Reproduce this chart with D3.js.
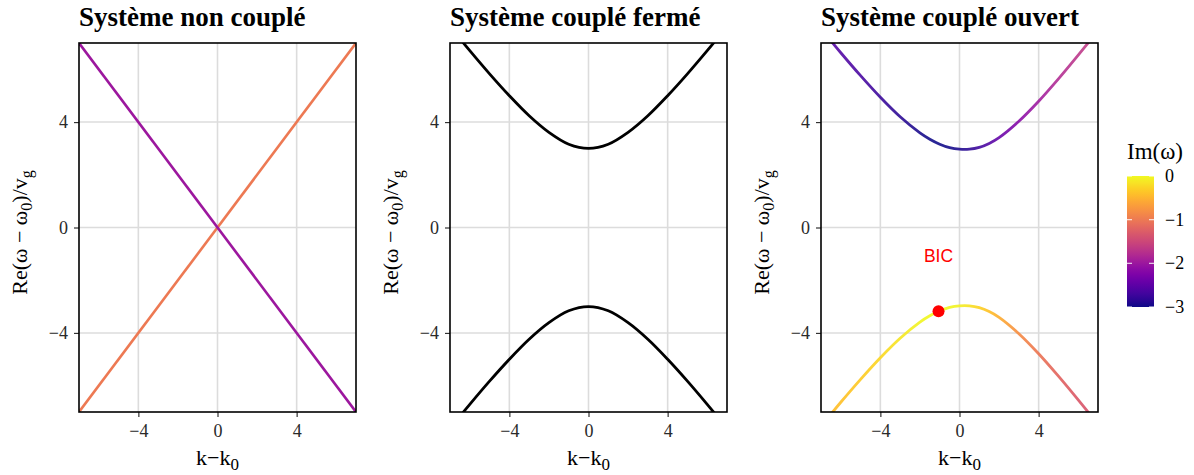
<!DOCTYPE html>
<html><head><meta charset="utf-8">
<script src="https://cdn.jsdelivr.net/npm/d3@7"></script>
<style>
html,body{margin:0;padding:0;background:#fff;}
svg text{font-family:"Liberation Serif","Times New Roman",serif;}
svg text.sans{font-family:"Liberation Sans",Arial,sans-serif;}
</style></head>
<body><svg id="c" width="1194" height="475"></svg>
<script>
// ---------- data ----------
const titles = ["Système non couplé", "Système couplé fermé", "Système couplé ouvert"];
const tickVals = [-4, 0, 4];
const cbTicks = [0, -1, -2, -3];

// Panel 1: uncoupled modes
const uncK = [-7, 7];
const uncUp = [-7, 7];     // mode 1 (Im = -1)
const uncDown = [7, -7];   // mode 2 (Im = -2)
const uncIm = [-1, -2];

// Panel 2: closed coupled system
const closedK = [-7, -6, -5, -4, -3, -2, -1, 0, 1, 2, 3, 4, 5, 6, 7];
const closedUpper = [7.62, 6.71, 5.83, 5.00, 4.24, 3.61, 3.16, 3.00, 3.16, 3.61, 4.24, 5.00, 5.83, 6.71, 7.62];
const closedLower = [-7.62, -6.71, -5.83, -5.00, -4.24, -3.61, -3.16, -3.00, -3.16, -3.61, -4.24, -5.00, -5.83, -6.71, -7.62];

// Panel 3: open coupled system
const openK = [-7, -6, -5, -4, -3, -2, -1.5, -1, -0.5, 0, 0.5, 1, 1.5, 2, 3, 4, 5, 6, 7];
const openUpperRe = [7.54, 6.63, 5.76, 4.94, 4.20, 3.59, 3.35, 3.16, 3.03, 2.97, 2.97, 3.04, 3.19, 3.41, 4.03, 4.79, 5.64, 6.54, 7.47];
const openUpperIm = [-2.53, -2.59, -2.67, -2.77, -2.87, -2.96, -2.99, -3.00, -2.98, -2.93, -2.85, -2.73, -2.59, -2.45, -2.18, -1.97, -1.81, -1.69, -1.60];
const openLowerRe = [-7.54, -6.63, -5.76, -4.94, -4.20, -3.59, -3.35, -3.16, -3.03, -2.97, -2.97, -3.04, -3.19, -3.41, -4.03, -4.79, -5.64, -6.54, -7.47];
const openLowerIm = [-0.47, -0.41, -0.33, -0.24, -0.13, -0.04, -0.01, 0.00, -0.02, -0.07, -0.16, -0.27, -0.41, -0.55, -0.82, -1.03, -1.19, -1.31, -1.40];
const bicK = [-1.06];
const bicRe = [-3.18];
const bicLabel = "BIC";
const bicLabelRe = -1.3;

// ---------- layout ----------
const svg = d3.select("#c");
const panelsX = [[79, 356], [450, 727], [821, 1098]];
const plotTop = 43, plotBottom = 412;
const color = d3.scaleSequential(d3.interpolatePlasma).domain([-3, 0]);
const defs = svg.append("defs");

function panel(i) {
  const [x0, x1] = panelsX[i];
  const x = d3.scaleLinear().domain([-7, 7]).range([x0, x1]);
  const y = d3.scaleLinear().domain([-7, 7]).range([plotBottom, plotTop]);
  const g = svg.append("g");
  g.selectAll(".gx").data(tickVals).join("line")
    .attr("x1", d => x(d)).attr("x2", d => x(d)).attr("y1", plotTop).attr("y2", plotBottom)
    .attr("stroke", "#dcdcdc").attr("stroke-width", 1.6);
  g.selectAll(".gy").data(tickVals).join("line")
    .attr("y1", d => y(d)).attr("y2", d => y(d)).attr("x1", x0).attr("x2", x1)
    .attr("stroke", "#dcdcdc").attr("stroke-width", 1.6);
  const ax = g.append("g").attr("transform", `translate(0,${plotBottom})`)
    .call(d3.axisBottom(x).tickValues(tickVals).tickSize(5).tickPadding(7));
  const ay = g.append("g").attr("transform", `translate(${x0},0)`)
    .call(d3.axisLeft(y).tickValues(tickVals).tickSize(5).tickPadding(6));
  [ax, ay].forEach(a => {
    a.select(".domain").remove();
    a.selectAll("line").attr("stroke", "#333").attr("stroke-width", 1.2);
    a.selectAll("text").attr("font-size", 18).attr("fill", "#2a2a2a");
  });
  const cid = "clip" + i;
  defs.append("clipPath").attr("id", cid).append("rect")
    .attr("x", x0).attr("y", plotTop).attr("width", x1 - x0).attr("height", plotBottom - plotTop);
  const plot = g.append("g").attr("clip-path", `url(#${cid})`);
  svg.append("text").attr("x", x0).attr("y", 26).attr("font-size", 27)
    .attr("font-weight", "bold").attr("fill", "#000").text(titles[i]);
  const xl = svg.append("text").attr("x", (x0 + x1) / 2).attr("y", 465)
    .attr("text-anchor", "middle").attr("font-size", 22).attr("fill", "#000");
  xl.append("tspan").text("k−k");
  xl.append("tspan").attr("font-size", 17).attr("dy", 5).text("0");
  const yl = svg.append("text")
    .attr("transform", `translate(${x0 - 52},${(plotTop + plotBottom) / 2 + 5}) rotate(-90)`)
    .attr("text-anchor", "middle").attr("font-size", 22).attr("fill", "#000");
  yl.append("tspan").text("Re(ω − ω");
  yl.append("tspan").attr("font-size", 16).attr("dy", 5).text("0");
  yl.append("tspan").attr("dy", -5).text(")/v");
  yl.append("tspan").attr("font-size", 16).attr("dy", 5).text("g");
  return { g, plot, x, y, x0, x1 };
}

const P = [0, 1, 2].map(panel);

function gradient(id, p, ks, ims) {
  const lg = defs.append("linearGradient").attr("id", id)
    .attr("gradientUnits", "userSpaceOnUse")
    .attr("x1", p.x0).attr("x2", p.x1).attr("y1", 0).attr("y2", 0);
  lg.selectAll("stop").data(ks).join("stop")
    .attr("offset", (d, j) => (p.x(d) - p.x0) / (p.x1 - p.x0))
    .attr("stop-color", (d, j) => color(ims[j]));
  return `url(#${id})`;
}

// Panel 1
{
  const p = P[0];
  const line = d3.line().x(d => p.x(d[0])).y(d => p.y(d[1]));
  p.plot.append("path").attr("d", line(uncK.map((k, j) => [k, uncUp[j]])))
    .attr("fill", "none").attr("stroke", color(uncIm[0])).attr("stroke-width", 2.6);
  p.plot.append("path").attr("d", line(uncK.map((k, j) => [k, uncDown[j]])))
    .attr("fill", "none").attr("stroke", color(uncIm[1])).attr("stroke-width", 2.6);
}
// Panel 2
{
  const p = P[1];
  const line = d3.line().curve(d3.curveCatmullRom).x(d => p.x(d[0])).y(d => p.y(d[1]));
  [closedUpper, closedLower].forEach(arr => {
    p.plot.append("path").attr("d", line(closedK.map((k, j) => [k, arr[j]])))
      .attr("fill", "none").attr("stroke", "#000").attr("stroke-width", 2.8);
  });
}
// Panel 3
{
  const p = P[2];
  const line = d3.line().curve(d3.curveCatmullRom).x(d => p.x(d[0])).y(d => p.y(d[1]));
  const gu = gradient("gradU", p, openK, openUpperIm);
  const gl = gradient("gradL", p, openK, openLowerIm);
  p.plot.append("path").attr("d", line(openK.map((k, j) => [k, openUpperRe[j]])))
    .attr("fill", "none").attr("stroke", gu).attr("stroke-width", 2.8).attr("stroke-opacity", 0.88);
  p.plot.append("path").attr("d", line(openK.map((k, j) => [k, openLowerRe[j]])))
    .attr("fill", "none").attr("stroke", gl).attr("stroke-width", 2.8).attr("stroke-opacity", 0.92);
  p.plot.selectAll(".bic").data(bicK).join("circle")
    .attr("cx", d => p.x(d)).attr("cy", (d, j) => p.y(bicRe[j])).attr("r", 6).attr("fill", "#ff0000");
  p.plot.append("text").attr("class", "sans").attr("x", p.x(bicK[0])).attr("y", p.y(bicLabelRe))
    .attr("text-anchor", "middle").attr("font-size", 17.5).attr("fill", "#ff0000").text(bicLabel);
}
P.forEach(p => {
  svg.append("rect").attr("x", p.x0).attr("y", plotTop).attr("width", p.x1 - p.x0).attr("height", plotBottom - plotTop)
    .attr("fill", "none").attr("stroke", "#000").attr("stroke-width", 1.6);
});

// colour bar
{
  const cbX = 1127, cbW = 27;
  const cy = d3.scaleLinear().domain([0, -3]).range([176, 307]);
  const lg = defs.append("linearGradient").attr("id", "cbg").attr("x1", 0).attr("x2", 0).attr("y1", 1).attr("y2", 0);
  d3.range(0, 1.0001, 0.05).forEach(t => {
    lg.append("stop").attr("offset", t).attr("stop-color", d3.interpolatePlasma(t));
  });
  svg.append("rect").attr("x", cbX).attr("y", cy(0)).attr("width", cbW).attr("height", cy(-3) - cy(0))
    .attr("fill", "url(#cbg)");
  const tg = svg.append("g");
  cbTicks.forEach(v => {
    tg.append("line").attr("x1", cbX).attr("x2", cbX + 5).attr("y1", cy(v)).attr("y2", cy(v))
      .attr("stroke", "#fff").attr("stroke-width", 1.2).attr("opacity", 0.8);
    tg.append("line").attr("x1", cbX + cbW - 5).attr("x2", cbX + cbW).attr("y1", cy(v)).attr("y2", cy(v))
      .attr("stroke", "#fff").attr("stroke-width", 1.2).attr("opacity", 0.8);
    tg.append("text").attr("x", cbX + cbW + 11).attr("y", cy(v) + 6)
      .attr("font-size", 18).attr("fill", "#000").text(d3.format("")(v).replace("-", "−"));
  });
  svg.append("text").attr("x", cbX).attr("y", 159).attr("font-size", 23).attr("fill", "#000").text("Im(ω)");
}
</script></body></html>
